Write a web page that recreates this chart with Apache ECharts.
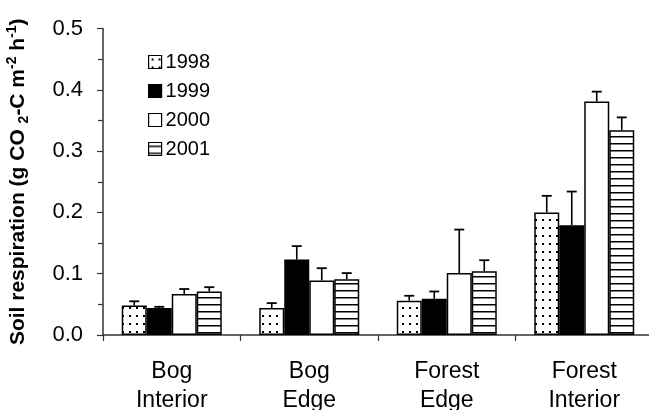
<!DOCTYPE html>
<html>
<head>
<meta charset="utf-8">
<script src="https://cdn.jsdelivr.net/npm/echarts@6/dist/echarts.min.js"></script>
<style>
html,body{margin:0;padding:0;background:#fff;}
#c{width:649px;height:410px;}
</style>
</head>
<body>
<div id="c"></div>
<script>
const categories = ['Bog\nInterior', 'Bog\nEdge', 'Forest\nEdge', 'Forest\nInterior'];
const years = ['1998', '1999', '2000', '2001'];
const v1998 = [0.048, 0.044, 0.056, 0.200];
const e1998 = [0.007, 0.008, 0.008, 0.027];
const v1999 = [0.044, 0.123, 0.059, 0.179];
const e1999 = [0.002, 0.022, 0.012, 0.055];
const v2000 = [0.067, 0.089, 0.101, 0.381];
const e2000 = [0.008, 0.020, 0.071, 0.016];
const v2001 = [0.071, 0.091, 0.104, 0.334];
const e2001 = [0.007, 0.010, 0.018, 0.021];
const yTicks = [0, 0.1, 0.2, 0.3, 0.4, 0.5];

const values = [v1998, v1999, v2000, v2001];
const errors = [e1998, e1999, e2000, e2001];

function dotPattern() {
  const c = document.createElement('canvas');
  c.width = 7; c.height = 8;
  const g = c.getContext('2d');
  g.fillStyle = '#fff'; g.fillRect(0, 0, 7, 8);
  g.fillStyle = '#000'; g.fillRect(3, 3, 2, 2);
  return c;
}
function stripePattern() {
  const c = document.createElement('canvas');
  c.width = 8; c.height = 7;
  const g = c.getContext('2d');
  g.fillStyle = '#fff'; g.fillRect(0, 0, 8, 7);
  g.fillStyle = '#000'; g.fillRect(0, 3, 8, 1.5);
  return c;
}
const fills = [
  { image: dotPattern(), repeat: 'repeat' },
  '#000',
  '#fff',
  { image: stripePattern(), repeat: 'repeat' }
];

const BAR_W = 25;
const FONT = '"Liberation Sans", Arial, sans-serif';

const series = [];
years.forEach((y, i) => {
  series.push({
    name: y,
    type: 'bar',
    data: values[i],
    barWidth: BAR_W,
    barGap: '0%',
    itemStyle: { color: fills[i], borderColor: '#000', borderWidth: 1.5 },
    emphasis: { disabled: true },
    animation: false
  });
});
years.forEach((y, i) => {
  const offset = (i - 1.5) * BAR_W;
  series.push({
    type: 'custom',
    data: values[i].map((v, k) => [k, v, errors[i][k]]),
    encode: { x: 0, y: 1 },
    z: 5,
    animation: false,
    renderItem: function (params, api) {
      const ci = api.value(0), v = api.value(1), e = api.value(2);
      const base = api.coord([ci, v]);
      const top = api.coord([ci, v + e]);
      const x = base[0] + offset;
      return {
        type: 'group',
        children: [
          { type: 'line', shape: { x1: x, y1: base[1], x2: x, y2: top[1] }, style: { stroke: '#000', lineWidth: 1.6 } },
          { type: 'line', shape: { x1: x - 5, y1: top[1], x2: x + 5, y2: top[1] }, style: { stroke: '#000', lineWidth: 1.8 } }
        ]
      };
    }
  });
});

const chart = echarts.init(document.getElementById('c'), null, { renderer: 'canvas' });
chart.setOption({
  backgroundColor: '#fff',
  animation: false,
  grid: { left: 103, top: 28.5, width: 550, bottom: 75, containLabel: false, outerBoundsMode: 'none' },
  legend: {
    data: years,
    orient: 'vertical',
    left: 143,
    top: 47,
    itemWidth: 13,
    itemHeight: 13,
    itemGap: 9,
    itemStyle: { borderColor: '#000', borderWidth: 1.2 },
    textStyle: { fontFamily: FONT, fontSize: 20, color: '#000', padding: [0, 0, 0, -1] },
    icon: 'rect',
    selectedMode: false
  },
  xAxis: {
    type: 'category',
    data: categories,
    axisLine: { lineStyle: { color: '#333', width: 1.5 } },
    axisTick: { show: true, length: 6, lineStyle: { color: '#333', width: 1.2 } },
    axisLabel: { fontFamily: FONT, fontSize: 23, color: '#000', lineHeight: 29, margin: 22 }
  },
  yAxis: {
    type: 'value',
    min: 0, max: 0.5, interval: 0.1,
    axisLine: { show: true, lineStyle: { color: '#333', width: 1.5 } },
    axisTick: { show: true, length: 6, lineStyle: { color: '#333', width: 1.2 } },
    minorTick: { show: true, splitNumber: 2, length: 5, lineStyle: { color: '#333', width: 1.2 } },
    splitLine: { show: false },
    axisLabel: {
      fontFamily: FONT, fontSize: 22, color: '#000', margin: 20,
      formatter: v => yTicks.includes(Math.round(v * 10) / 10) ? v.toFixed(1) : ''
    },
    name: '{b|Soil respiration (g CO }{s|2}{b|-C m}{p|-2}{b| h}{p|-1}{b|)}',
    nameLocation: 'middle',
    nameGap: 72,
    nameRotate: 90,
    nameTextStyle: {
      rich: {
        b: { fontFamily: FONT, fontSize: 21, fontWeight: 'bold', color: '#000', lineHeight: 26 },
        s: { fontFamily: FONT, fontSize: 14, fontWeight: 'bold', color: '#000', lineHeight: 26, verticalAlign: 'bottom' },
        p: { fontFamily: FONT, fontSize: 14, fontWeight: 'bold', color: '#000', lineHeight: 26, verticalAlign: 'top' }
      }
    }
  },
  series: series
});
</script>
</body>
</html>
